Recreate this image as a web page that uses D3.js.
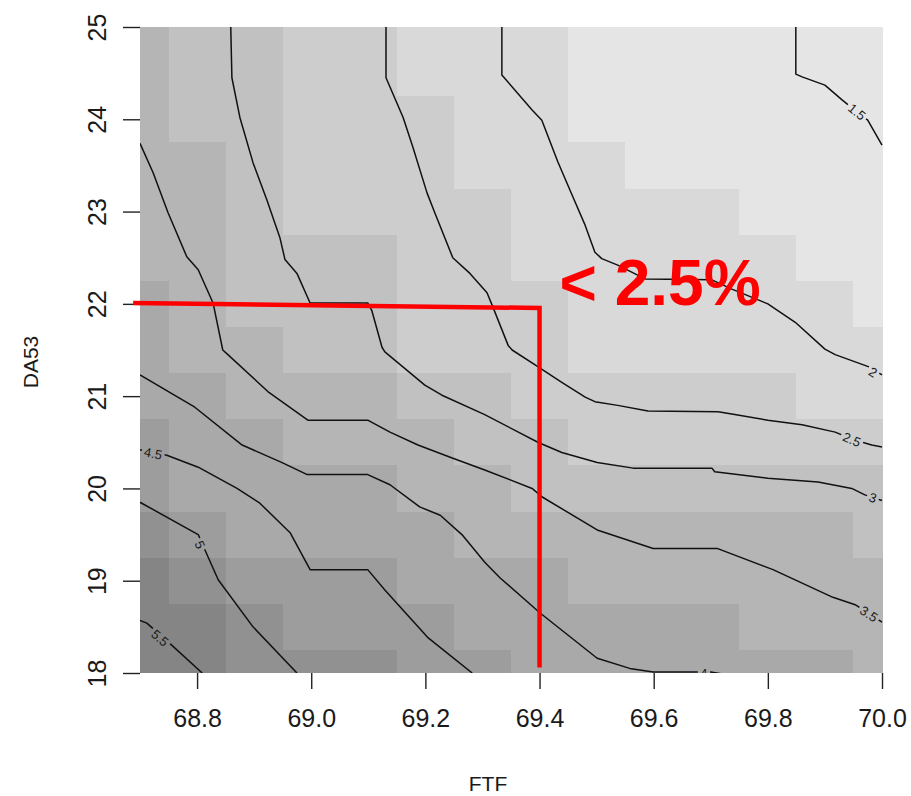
<!DOCTYPE html>
<html>
<head>
<meta charset="utf-8">
<script src="https://cdn.jsdelivr.net/npm/d3@7"></script>
<style>
  html, body { margin: 0; padding: 0; background: #ffffff; }
  svg { display: block; font-family: "Liberation Sans", Arial, Helvetica, sans-serif; }
</style>
</head>
<body>
<svg id="chart" width="911" height="796"></svg>
<script>
// ---- grid axes ----
const ftfValues  = [68.7, 68.8, 68.9, 69.0, 69.1, 69.2, 69.3, 69.4, 69.5, 69.6, 69.7, 69.8, 69.9, 70.0];
const da53Values = [25, 24.5, 24, 23.5, 23, 22.5, 22, 21.5, 21, 20.5, 20, 19.5, 19, 18.5, 18];

// ---- risk surface (%), one row per DA53 value, columns follow ftfValues ----
const riskGrid = [
  [3.75, 3.25, 3.25, 2.75, 2.75, 2.25, 2.25, 2.25, 1.75, 1.75, 1.75, 1.75, 1.75, 1.75],
  [3.75, 3.25, 3.25, 2.75, 2.75, 2.25, 2.25, 2.25, 1.75, 1.75, 1.75, 1.75, 1.75, 1.75],
  [3.75, 3.25, 3.25, 2.75, 2.75, 2.75, 2.25, 2.25, 1.75, 1.75, 1.75, 1.75, 1.75, 1.75],
  [3.75, 3.75, 3.25, 2.75, 2.75, 2.75, 2.25, 2.25, 2.25, 1.75, 1.75, 1.75, 1.75, 1.75],
  [3.75, 3.75, 3.25, 2.75, 2.75, 2.75, 2.75, 2.25, 2.25, 2.25, 2.25, 1.75, 1.75, 1.75],
  [3.75, 3.75, 3.25, 3.25, 3.25, 2.75, 2.75, 2.25, 2.25, 2.25, 2.25, 2.25, 1.75, 1.75],
  [4.25, 3.75, 3.25, 3.25, 3.25, 2.75, 2.75, 2.75, 2.25, 2.25, 2.25, 2.25, 2.25, 1.75],
  [4.25, 3.75, 3.75, 3.25, 3.25, 2.75, 2.75, 2.75, 2.25, 2.25, 2.25, 2.25, 2.25, 2.25],
  [4.25, 4.25, 3.75, 3.75, 3.75, 3.25, 3.25, 2.75, 2.75, 2.75, 2.75, 2.75, 2.25, 2.25],
  [4.75, 4.25, 4.25, 3.75, 3.75, 3.75, 3.25, 3.25, 2.75, 2.75, 2.75, 2.75, 2.75, 2.75],
  [4.75, 4.25, 4.25, 4.25, 4.25, 3.75, 3.75, 3.25, 3.25, 3.25, 3.25, 3.25, 3.25, 3.25],
  [5.25, 4.75, 4.25, 4.25, 4.25, 4.25, 3.75, 3.75, 3.75, 3.75, 3.75, 3.75, 3.75, 3.25],
  [5.75, 5.25, 4.75, 4.75, 4.75, 4.25, 4.25, 4.25, 3.75, 3.75, 3.75, 3.75, 3.75, 3.75],
  [5.75, 5.75, 5.25, 4.75, 4.75, 4.75, 4.25, 4.25, 4.25, 4.25, 4.25, 3.75, 3.75, 3.75],
  [5.75, 5.75, 5.25, 5.25, 5.25, 4.75, 4.75, 4.25, 4.25, 4.25, 4.25, 4.25, 4.25, 3.75]
];

// ---- contour lines: [FTF, DA53] vertices per level ----
const iso15 = [[69.849,25],[69.849,24.49],[69.860,24.46],[69.900,24.37],[69.930,24.21],[69.956,24.08],[69.975,23.99],[70.0,23.72]];
const iso20 = [[69.334,25],[69.334,24.48],[69.387,24.10],[69.404,23.99],[69.432,23.54],[69.457,23.18],[69.480,22.85],[69.497,22.56],[69.509,22.49],[69.537,22.42],[69.585,22.27],[69.702,22.26],[69.737,22.16],[69.800,22.0],[69.848,21.80],[69.900,21.51],[69.918,21.45],[69.976,21.32],[70.0,21.23]];
const iso25 = [[69.131,25],[69.131,24.45],[69.161,24.02],[69.178,23.70],[69.203,23.20],[69.217,22.98],[69.248,22.50],[69.278,22.33],[69.308,22.12],[69.318,21.97],[69.345,21.55],[69.352,21.50],[69.397,21.32],[69.439,21.15],[69.480,20.99],[69.497,20.94],[69.537,20.90],[69.590,20.84],[69.713,20.83],[69.742,20.80],[69.800,20.74],[69.860,20.69],[69.918,20.61],[69.949,20.53],[69.982,20.47],[70.0,20.45]];
const iso30 = [[68.859,25],[68.861,24.45],[68.875,24.02],[68.898,23.53],[68.922,23.13],[68.945,22.72],[68.954,22.48],[68.975,22.33],[68.998,22.01],[69.099,22.01],[69.106,21.93],[69.124,21.53],[69.129,21.48],[69.199,21.12],[69.229,21.01],[69.304,20.80],[69.397,20.50],[69.439,20.39],[69.501,20.28],[69.564,20.22],[69.702,20.22],[69.707,20.18],[69.800,20.11],[69.888,20.07],[69.947,20.00],[69.970,19.93],[70.0,19.87]];
const iso35 = [[68.7,23.74],[68.723,23.42],[68.749,22.99],[68.782,22.51],[68.802,22.37],[68.828,22.01],[68.845,21.50],[68.854,21.45],[68.924,21.05],[68.994,20.74],[69.099,20.74],[69.138,20.61],[69.187,20.47],[69.247,20.33],[69.304,20.20],[69.387,20.00],[69.404,19.91],[69.501,19.55],[69.599,19.35],[69.711,19.35],[69.809,19.12],[69.914,18.82],[69.953,18.74],[70.0,18.55]];
const iso40 = [[68.7,21.23],[68.796,20.88],[68.879,20.47],[68.949,20.28],[68.993,20.15],[69.099,20.15],[69.138,20.04],[69.190,19.80],[69.226,19.71],[69.264,19.50],[69.304,19.20],[69.331,19.03],[69.401,18.65],[69.501,18.16],[69.558,18.05],[69.599,18.01],[69.700,18.01],[69.720,17.99]];
const iso45 = [[68.7,20.42],[68.747,20.36],[68.802,20.23],[68.870,20.00],[68.910,19.84],[68.963,19.52],[68.998,19.12],[69.099,19.12],[69.129,18.90],[69.205,18.38],[69.282,18.0]];
const iso50 = [[68.7,19.85],[68.802,19.50],[68.814,19.33],[68.837,19.01],[68.898,18.50],[68.975,18.0]];
const iso55 = [[68.7,18.57],[68.712,18.54],[68.756,18.30],[68.809,18.0]];

const contourLevels = [1.5, 2, 2.5, 3, 3.5, 4, 4.5, 5, 5.5];
const contourPaths  = [iso15, iso20, iso25, iso30, iso35, iso40, iso45, iso50, iso55];
// where each level's label sits, in [FTF, DA53]
const labelSpots = [[69.956,24.08],[69.984,21.26],[69.947,20.53],[69.984,19.90],[69.977,18.64],[69.688,17.99],[68.723,20.38],[68.805,19.39],[68.735,18.38]];

// ---- axis ticks ----
const xTicks = [68.8, 69.0, 69.2, 69.4, 69.6, 69.8, 70.0];
const yTicks = [18, 19, 20, 21, 22, 23, 24, 25];

// ---- highlighted cut-off (FTF 69.4, DA53 22) ----
const cutoffPath = [[68.688, 22.01], [69.4, 21.955], [69.4, 18.06]];
const cutoffText = "< 2.5%";
const cutoffTextAt = [69.435, 21.99];

// ================= drawing =================
const W = 911, H = 796;
const x = d3.scaleLinear().domain([68.7, 70.0]).range([140, 882]);
const y = d3.scaleLinear().domain([18, 25]).range([673, 27]);
const grey = d3.scaleLinear().domain([1.75, 5.75]).range(["#e5e5e5", "#858585"]);

const svg = d3.select("#chart");
const defs = svg.append("defs");

defs.append("clipPath").attr("id", "plotClip")
  .append("rect")
  .attr("x", x(68.7)).attr("y", y(25))
  .attr("width", x(70.0) - x(68.7) + 1)
  .attr("height", y(18) - y(25));

// heat cells
const cells = [];
da53Values.forEach((d, i) => ftfValues.forEach((f, j) => cells.push({ f, d, z: riskGrid[i][j] })));

svg.append("g").attr("clip-path", "url(#plotClip)")
  .selectAll("rect").data(cells).join("rect")
  .attr("x", c => x(c.f - 0.05))
  .attr("y", c => y(c.d + 0.25))
  .attr("width", c => x(c.f + 0.05) - x(c.f - 0.05) + 0.6)
  .attr("height", c => y(c.d - 0.25) - y(c.d + 0.25) + 0.6)
  .attr("fill", c => grey(c.z))
  .attr("shape-rendering", "crispEdges");

// contour labels first (measured), so the lines can be gapped under them
const mask = defs.append("mask").attr("id", "labelGaps")
  .attr("maskUnits", "userSpaceOnUse")
  .attr("x", 0).attr("y", 0).attr("width", W).attr("height", H);
mask.append("rect").attr("width", W).attr("height", H).attr("fill", "white");

function labelAngle(pts, spot) {
  const P = pts.map(p => [x(p[0]), y(p[1])]);
  const A = [x(spot[0]), y(spot[1])];
  let best = Infinity, ang = 0;
  for (let k = 0; k < P.length - 1; k++) {
    const [x1, y1] = P[k], [x2, y2] = P[k + 1];
    const dx = x2 - x1, dy = y2 - y1;
    const L2 = dx * dx + dy * dy || 1;
    let t = ((A[0] - x1) * dx + (A[1] - y1) * dy) / L2;
    t = Math.max(0, Math.min(1, t));
    const qx = x1 + t * dx, qy = y1 + t * dy;
    const dist = Math.hypot(A[0] - qx, A[1] - qy);
    if (dist < best) {
      best = dist;
      let a = Math.atan2(dy, dx) * 180 / Math.PI;
      if (a > 90) a -= 180;
      if (a < -90) a += 180;
      ang = a;
    }
  }
  return ang;
}

const lineGen = d3.line().x(p => x(p[0])).y(p => y(p[1]));

const contourG = svg.append("g").attr("clip-path", "url(#plotClip)");
const linesG = contourG.append("g").attr("mask", "url(#labelGaps)");
const labelsG = contourG.append("g");

contourPaths.forEach((pts, i) => {
  linesG.append("path")
    .attr("d", lineGen(pts))
    .attr("fill", "none")
    .attr("stroke", "#111")
    .attr("stroke-width", 1.5)
    .attr("stroke-linejoin", "round");

  const spot = labelSpots[i];
  const ang = labelAngle(pts, spot);
  const tf = `translate(${x(spot[0])},${y(spot[1])}) rotate(${ang})`;
  const t = labelsG.append("text")
    .attr("transform", tf)
    .attr("text-anchor", "middle")
    .attr("dy", "0.35em")
    .attr("font-size", 13)
    .attr("fill", "#1a1a1a")
    .text(d3.format("")(contourLevels[i]));
  const w = t.node().getComputedTextLength();
  mask.append("rect")
    .attr("transform", tf)
    .attr("x", -w / 2 - 2.5).attr("y", -7)
    .attr("width", w + 5).attr("height", 14)
    .attr("fill", "black");
});

// axes (ticks only, R style)
const fontFam = '"Liberation Sans", Arial, Helvetica, sans-serif';

const xAxisG = svg.append("g")
  .attr("transform", `translate(0,${y(18)})`)
  .call(d3.axisBottom(x).tickValues(xTicks).tickFormat(d3.format(".1f")).tickSize(16).tickSizeOuter(0));
xAxisG.select(".domain").remove();
xAxisG.attr("font-family", fontFam).attr("font-size", 25);
xAxisG.selectAll(".tick line").attr("stroke", "#222").attr("stroke-width", 1.4);
xAxisG.selectAll(".tick text").attr("y", 54).attr("dy", 0).attr("fill", "#1a1a1a");

const yAxisG = svg.append("g")
  .attr("transform", `translate(${x(68.7)},0)`)
  .call(d3.axisLeft(y).tickValues(yTicks).tickFormat(d3.format("d")).tickSize(17).tickSizeOuter(0));
yAxisG.select(".domain").remove();
yAxisG.attr("font-family", fontFam).attr("font-size", 25);
yAxisG.selectAll(".tick line").attr("stroke", "#222").attr("stroke-width", 1.4);
yAxisG.selectAll(".tick text")
  .attr("x", 0).attr("dy", 0)
  .attr("text-anchor", "middle")
  .attr("transform", "translate(-34,0) rotate(-90)")
  .attr("fill", "#1a1a1a");

// axis titles
svg.append("text")
  .attr("x", 488).attr("y", 791)
  .attr("text-anchor", "middle")
  .attr("font-size", 21).attr("fill", "#1a1a1a")
  .text("FTF");

svg.append("text")
  .attr("transform", "translate(38,362) rotate(-90)")
  .attr("text-anchor", "middle")
  .attr("font-size", 21).attr("fill", "#1a1a1a")
  .text("DA53");

// cut-off lines and label
svg.append("path")
  .attr("d", lineGen(cutoffPath))
  .attr("fill", "none")
  .attr("stroke", "#ff0000")
  .attr("stroke-width", 4.5)
  .attr("stroke-linejoin", "miter");

svg.append("text")
  .attr("x", x(cutoffTextAt[0])).attr("y", y(cutoffTextAt[1]))
  .attr("font-size", 64)
  .attr("font-weight", "bold")
  .attr("fill", "#ff0000")
  .text(cutoffText);
</script>
</body>
</html>
